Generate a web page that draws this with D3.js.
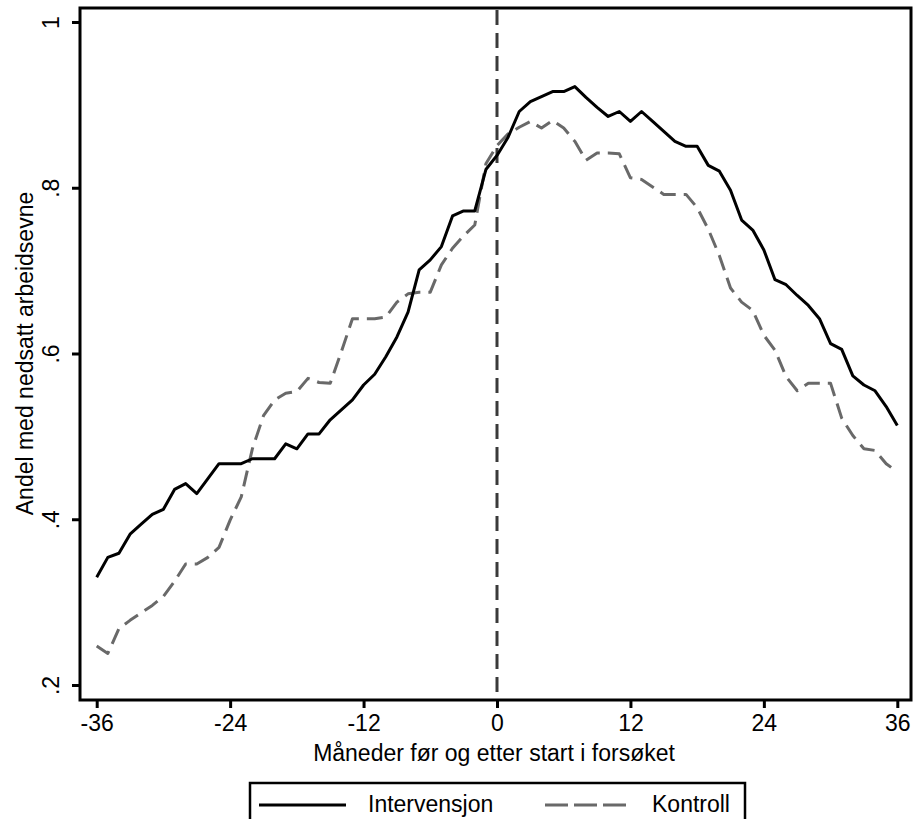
<!DOCTYPE html>
<html>
<head>
<meta charset="utf-8">
<script src="https://cdn.jsdelivr.net/npm/d3@7"></script>
<style>
  html, body { margin: 0; padding: 0; background: #fff; }
  svg { display: block; }
  text { font-family: "Liberation Sans", Arial, Helvetica, sans-serif; fill: #000; }
</style>
</head>
<body>
<script>
// ---- data ----
const months = d3.range(-36, 37);
const intervensjon = [
  0.330, 0.354, 0.359, 0.382, 0.394, 0.406, 0.412, 0.436, 0.443, 0.431,
  0.449, 0.467, 0.467, 0.467, 0.473, 0.473, 0.473, 0.491, 0.485, 0.503,
  0.503, 0.520, 0.532, 0.544, 0.562, 0.575, 0.596, 0.620, 0.650, 0.701,
  0.713, 0.729, 0.766, 0.772, 0.772, 0.822, 0.839, 0.861, 0.892, 0.904,
  0.910, 0.916, 0.916, 0.922, 0.909, 0.897, 0.886, 0.892, 0.880, 0.892,
  0.880, 0.868, 0.856, 0.850, 0.850, 0.827, 0.820, 0.797, 0.761, 0.749,
  0.725, 0.689, 0.683, 0.670, 0.658, 0.642, 0.612, 0.605, 0.573, 0.562,
  0.555, 0.536, 0.513
];
const kontroll = [
  0.247, 0.238, 0.268, 0.278, 0.287, 0.296, 0.307, 0.325, 0.346, 0.346,
  0.354, 0.366, 0.399, 0.427, 0.485, 0.525, 0.544, 0.552, 0.554, 0.570,
  0.565, 0.564, 0.602, 0.642, 0.642, 0.642, 0.644, 0.662, 0.672, 0.674,
  0.674, 0.707, 0.727, 0.742, 0.755, 0.829, 0.851, 0.865, 0.873, 0.880,
  0.872, 0.881, 0.872, 0.856, 0.833, 0.842, 0.842, 0.841, 0.812, 0.810,
  0.801, 0.792, 0.792, 0.792, 0.776, 0.750, 0.718, 0.679, 0.662, 0.652,
  0.622, 0.604, 0.572, 0.555, 0.564, 0.564, 0.564, 0.522, 0.501, 0.485,
  0.483, 0.467, 0.457
];
const xTicks = [-36, -24, -12, 0, 12, 24, 36];
const xTickLabels = ["-36", "-24", "-12", "0", "12", "24", "36"];
const yTicks = [0.2, 0.4, 0.6, 0.8, 1];
const yTickLabels = [".2", ".4", ".6", ".8", "1"];
const seriesNames = ["Intervensjon", "Kontroll"];
const xTitle = "Måneder før og etter start i forsøket";
const yTitle = "Andel med nedsatt arbeidsevne";

// ---- layout ----
const W = 915, H = 819;
const frame = { left: 80, top: 8, right: 911, bottom: 700 };
const FS = 23;
const FONT = "Liberation Sans, Arial, sans-serif";

const svg = d3.select("body").append("svg").attr("width", W).attr("height", H);

const x = d3.scaleLinear().domain([-36, 36]).range([96.7, 897.3]);
const y = d3.scaleLinear().domain([0.2, 1]).range([685, 22]);

// frame (plot region border)
svg.append("rect")
  .attr("x", frame.left).attr("y", frame.top)
  .attr("width", frame.right - frame.left).attr("height", frame.bottom - frame.top)
  .attr("fill", "none").attr("stroke", "#000").attr("stroke-width", 3);

// x axis
const xAxis = d3.axisBottom(x).tickValues(xTicks).tickSize(8).tickPadding(7)
  .tickFormat((d, i) => xTickLabels[i]);
const gx = svg.append("g").attr("transform", `translate(0,${frame.bottom})`).call(xAxis);
gx.select(".domain").remove();
gx.selectAll(".tick line").attr("stroke", "#000").attr("stroke-width", 3);
gx.selectAll(".tick text").attr("font-size", FS).attr("font-family", FONT).attr("fill", "#000");

// y axis
const yAxis = d3.axisLeft(y).tickValues(yTicks).tickSize(8).tickPadding(6)
  .tickFormat((d, i) => yTickLabels[i]);
const gy = svg.append("g").attr("transform", `translate(${frame.left},0)`).call(yAxis);
gy.select(".domain").remove();
gy.selectAll(".tick line").attr("stroke", "#000").attr("stroke-width", 3);
gy.selectAll(".tick text")
  .attr("font-size", FS).attr("font-family", FONT).attr("fill", "#000")
  .attr("x", null).attr("dy", null)
  .attr("text-anchor", "middle")
  .attr("transform", "translate(-21,0) rotate(-90)");

// axis titles
svg.append("text")
  .attr("x", 494).attr("y", 761)
  .attr("text-anchor", "middle").attr("font-size", FS)
  .text(xTitle);
svg.append("text")
  .attr("transform", `translate(33,${(y(0.2) + y(1)) / 2}) rotate(-90)`)
  .attr("text-anchor", "middle").attr("font-size", FS)
  .text(yTitle);

// zero reference line
svg.append("line")
  .attr("x1", x(0)).attr("x2", x(0))
  .attr("y1", frame.top + 2).attr("y2", frame.bottom - 2)
  .attr("stroke", "#3a3a3a").attr("stroke-width", 3)
  .attr("stroke-dasharray", "15,8");

// lines
const line = d3.line().x((d, i) => x(months[i])).y(d => y(d));
svg.append("path").datum(kontroll)
  .attr("d", line).attr("fill", "none")
  .attr("stroke", "#696969").attr("stroke-width", 3)
  .attr("stroke-dasharray", "16,8").attr("stroke-linejoin", "round");
svg.append("path").datum(intervensjon)
  .attr("d", line).attr("fill", "none")
  .attr("stroke", "#000").attr("stroke-width", 3).attr("stroke-linejoin", "round");

// legend
const lg = svg.append("g");
lg.append("rect").attr("x", 250).attr("y", 783).attr("width", 495).attr("height", 60)
  .attr("fill", "#fff").attr("stroke", "#000").attr("stroke-width", 2.5);
const legendItems = [
  { name: seriesNames[0], x1: 259, x2: 346, tx: 368, color: "#000", dash: null },
  { name: seriesNames[1], x1: 545, x2: 632, tx: 652, color: "#696969", dash: "23,6" }
];
legendItems.forEach(it => {
  lg.append("line").attr("x1", it.x1).attr("x2", it.x2).attr("y1", 805).attr("y2", 805)
    .attr("stroke", it.color).attr("stroke-width", 3)
    .attr("stroke-dasharray", it.dash);
  lg.append("text").attr("x", it.tx).attr("y", 812).attr("font-size", FS).text(it.name);
});
</script>
</body>
</html>
